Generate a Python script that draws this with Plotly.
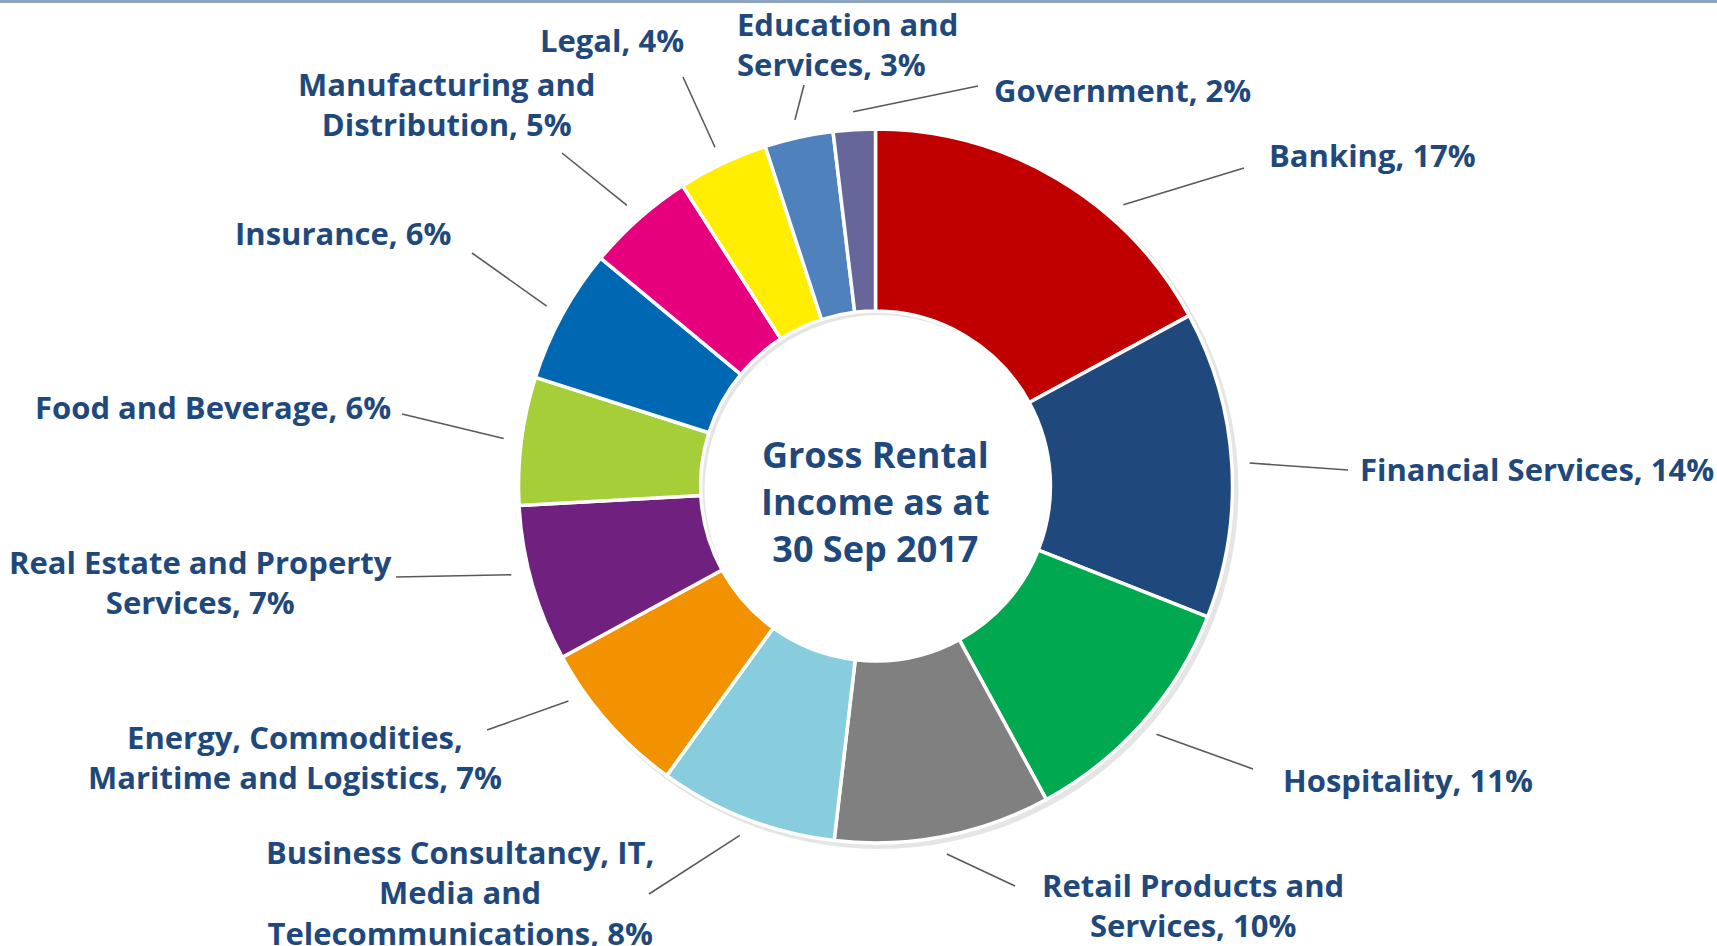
import math
import plotly.graph_objects as go

W, H = 1717, 946

# slices, clockwise from 12 o'clock
sectors = [
    "Banking", "Financial Services", "Hospitality", "Retail Products and Services",
    "Business Consultancy, IT, Media and Telecommunications",
    "Energy, Commodities, Maritime and Logistics", "Real Estate and Property Services",
    "Food and Beverage", "Insurance", "Manufacturing and Distribution", "Legal",
    "Education and Services", "Government",
]
shares = [17.1, 13.9, 11.1, 9.8, 8.1, 7.1, 7.1, 5.8, 6.1, 4.9, 4.1, 3.1, 1.9]
label_pct = [17, 14, 11, 10, 8, 7, 7, 6, 6, 5, 4, 3, 2]
label_text = [
    "Banking", "Financial Services", "Hospitality", "Retail Products and<br>Services",
    "Business Consultancy, IT,<br>Media and<br>Telecommunications",
    "Energy, Commodities,<br>Maritime and Logistics", "Real Estate and Property<br>Services",
    "Food and Beverage", "Insurance", "Manufacturing and<br>Distribution", "Legal",
    "Education and<br>Services", "Government",
]
colors = ["#C00000", "#1F497D", "#00A84F", "#808080", "#87CDDE", "#F39200", "#70207F",
          "#A6CE39", "#0068B3", "#E6007E", "#FFEE00", "#4F81BD", "#66669A"]

center_title = "Gross Rental<br>Income as at<br>30 Sep 2017"

# layout (pixels): donut centre / radius, label anchor and leader-line end per slice
CX, CY, R = 875.5, 486, 357
HOLE = 0.49
label_pos = [  # (text x, text y, xanchor, line end x, line end y)
    (1267, 155, "left", 1244, 168),
    (1358, 469, "left", 1348, 470),
    (1281, 780, "left", 1253, 769),
    (1193, 905, "center", 1015, 886),
    (460, 892, "center", 649, 894),
    (295, 757, "center", 487, 730),
    (200, 582, "center", 396, 577),
    (393, 407, "right", 402, 414),
    (453, 233, "right", 472, 253),
    (447, 104, "center", 562, 153),
    (686, 40, "right", 683, 77),
    (735, 44, "left", 804, 85),
    (992, 90, "left", 978, 86),
]
# where a leader line leaves the ring, if not at the slice middle (degrees from 12 o'clock)
angle_override = {"Banking": 41.4, "Energy, Commodities, Maritime and Logistics": 235,
                  "Real Estate and Property Services": 256.3}

TEXT = "#1F497D"
FONT = "Open Sans"

fig = go.Figure()
fig.add_trace(go.Pie(
    labels=sectors, values=shares, sort=False, direction="clockwise", rotation=0,
    hole=HOLE, textinfo="none", hoverinfo="label+percent",
    marker=dict(colors=colors, line=dict(color="white", width=3.5)),
    domain=dict(x=[(CX - R) / W, (CX + R) / W], y=[(H - CY - R) / H, (H - CY + R) / H]),
    showlegend=False,
))

def px(x):
    return x / W

def py(y):
    return 1 - y / H

RH = HOLE * R
shapes = [
    # thin rule along the top
    dict(type="line", xref="paper", yref="paper", x0=0, x1=1, y0=py(1.5), y1=py(1.5),
         line=dict(color="#8EA3BF", width=3)),
    # soft shadow behind the ring
    dict(type="circle", xref="paper", yref="paper", layer="below",
         x0=px(CX - R + 1), x1=px(CX + R + 6), y0=py(CY + R + 6), y1=py(CY - R + 1),
         fillcolor="rgba(0,0,0,0.10)", line=dict(width=0)),
    # hole, nudged so a faint inner shadow shows at its upper left
    dict(type="circle", xref="paper", yref="paper", layer="below",
         x0=px(CX - RH + 4), x1=px(CX + RH + 4), y0=py(CY + RH + 4), y1=py(CY - RH + 4),
         fillcolor="white", line=dict(width=0)),
]
annotations = []
total = sum(shares)
cum = 0
for name, val, txt, pct, pos in zip(sectors, shares, label_text, label_pct, label_pos):
    mid = (cum + val / 2) / total * 360
    cum += val
    ang = math.radians(angle_override.get(name, mid))
    sx = CX + 1.05 * R * math.sin(ang)
    sy = CY - 1.05 * R * math.cos(ang)
    tx, ty, anchor, ex, ey = pos
    shapes.append(dict(type="line", xref="paper", yref="paper",
                       x0=px(sx), y0=py(sy), x1=px(ex), y1=py(ey),
                       line=dict(color="#595959", width=1.6)))
    annotations.append(dict(
        x=px(tx), y=py(ty), xref="paper", yref="paper", xanchor=anchor, yanchor="middle",
        text=f"{txt}, {pct}%", showarrow=False,
        align="left" if anchor == "left" else ("right" if anchor == "right" else "center"),
        font=dict(family=FONT, size=31, color=TEXT, weight="bold"),
    ))

annotations.append(dict(
    x=px(CX), y=py(CY + 15), xref="paper", yref="paper", xanchor="center", yanchor="middle",
    text=center_title, showarrow=False, align="center",
    font=dict(family=FONT, size=36, color=TEXT, weight="bold"),
))

fig.update_layout(
    width=W, height=H, margin=dict(l=0, r=0, t=0, b=0),
    paper_bgcolor="white", plot_bgcolor="white",
    shapes=shapes, annotations=annotations,
)

# page body margin would push the figure off the window edge
fig.write_html("out.html", config={"displayModeBar": False},
               post_script="document.body.style.margin='0';")
